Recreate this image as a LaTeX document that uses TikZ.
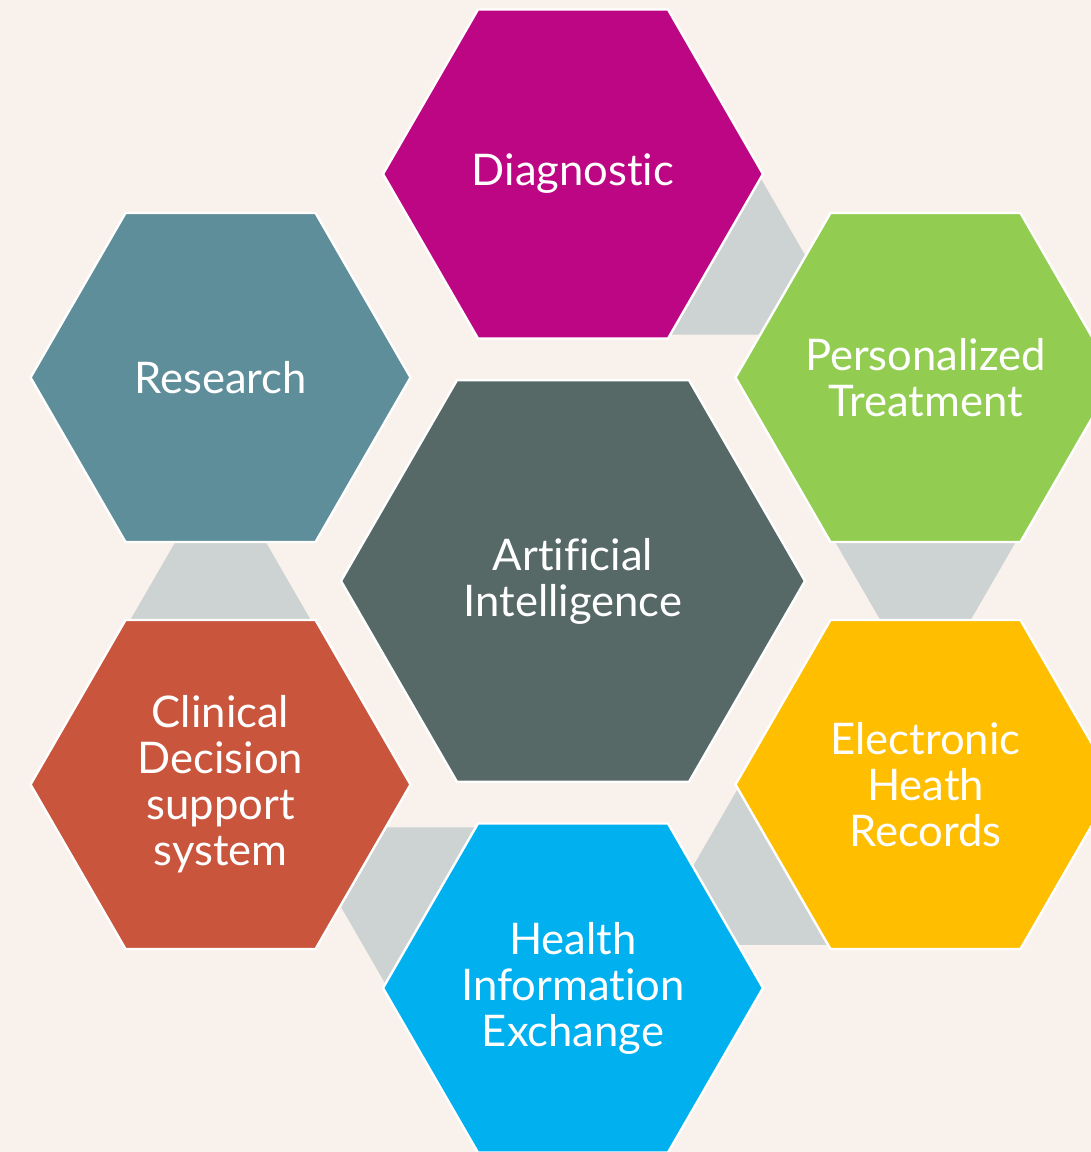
\documentclass[tikz,border=0pt]{standalone}
\usepackage{fontspec}
\setmainfont{Lato}[Ligatures={NoCommon}]
\usetikzlibrary{shapes.geometric,calc}

\definecolor{bgcream}{HTML}{F9F1EB}
\definecolor{linkgrey}{HTML}{CDD3D2}
\definecolor{aigrey}{HTML}{566967}
\definecolor{diagpink}{HTML}{BC0684}
\definecolor{treatgreen}{HTML}{92CD52}
\definecolor{recordyellow}{HTML}{FFBE00}
\definecolor{hieblue}{HTML}{00B0EF}
\definecolor{cdsred}{HTML}{C9553C}
\definecolor{researchteal}{HTML}{5E8E99}

\pgfdeclarelayer{canvas}
\pgfdeclarelayer{background}
\pgfsetlayers{canvas,background,main}

\tikzset{
  hexa/.style={regular polygon, regular polygon sides=6, draw=white,
    line width=0.06cm, inner sep=0pt},
  small/.style={hexa, minimum size=9.5cm},
  big/.style={hexa, minimum size=11.6cm},
  hextext/.style={text=white, align=center, inner sep=0pt,
    font=\fontsize{31}{32.7}\selectfont},
  link/.style={fill=linkgrey},
  gap/.style={draw=bgcream, line width=0.2cm}
}

\begin{document}
\begin{tikzpicture}
  \useasboundingbox (-14.325,-14.275) rectangle (12.95,14.525);
  \begin{pgfonlayer}{canvas}
    \fill[bgcream] (-14.325,-14.275) rectangle (12.95,14.525);
  \end{pgfonlayer}

  \node[big, fill=aigrey] (ai) at (0,0) {};
  \node[small, fill=diagpink] (diag) at (90:10.175) {};
  \node[small, fill=treatgreen] (pers) at (30:10.175) {};
  \node[small, fill=recordyellow] (elec) at (-30:10.175) {};
  \node[small, fill=hieblue] (hie) at (-90:10.175) {};
  \node[small, fill=cdsred] (clin) at (210:10.175) {};
  \node[small, fill=researchteal] (research) at (150:10.175) {};

  \node[hextext] (aitext) at (ai) {Artificial\\Intelligence};
  \node[hextext] (diagtext) at (diag) {Diagnostic};
  \node[hextext] (perstext) at (pers) {Personalized\\Treatment};
  \node[hextext] (electext) at (elec) {Electronic\\Heath\\Records};
  \node[hextext] (hietext) at (hie) {Health\\Information\\Exchange};
  \node[hextext] (clintext) at (clin) {Clinical\\Decision\\support\\system};
  \node[hextext] (researchtext) at (research) {Research};

  % grey wedges between neighbours, tucked under the next hexagon
  \begin{pgfonlayer}{background}
    \foreach \from/\ang in {diag/330, pers/270, elec/210, hie/150, clin/90} {
      \fill[link] ($(\from)+(\ang-30:4.75)$) -- ($(\from)+(\ang:8.227)$)
        -- ($(\from)+(\ang+30:4.75)$) -- cycle;
      \draw[gap] ($(\from)+(\ang-30:4.75)$) -- ($(\from)+(\ang:8.227)$)
        -- ($(\from)+(\ang+30:4.75)$);
    }
  \end{pgfonlayer}
\end{tikzpicture}
\end{document}
